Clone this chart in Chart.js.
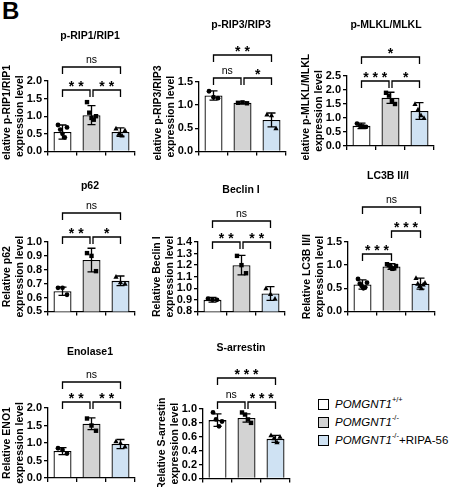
<!DOCTYPE html>
<html><head><meta charset="utf-8">
<script src="https://cdn.jsdelivr.net/npm/chart.js@4.4.0/dist/chart.umd.min.js"></script>
<style>
body{margin:0;width:462px;height:487px;background:#fff;position:relative;overflow:hidden;font-family:"Liberation Sans",Arial,sans-serif}
canvas{position:absolute}
.leg{position:absolute;left:318px;font-size:11.5px;color:#000;display:flex;align-items:flex-start;line-height:13px}
.sw{width:11px;height:11px;border:1.3px solid #000;margin-right:6px;box-sizing:border-box;margin-top:1px}
.sp{font-size:7.5px;line-height:8px;position:relative;top:-2px}
</style></head><body>
<div style="position:absolute;left:2px;top:-3px;font-weight:bold;font-size:24px">B</div>
<div class="leg" style="top:398px"><div class="sw" style="background:#fff"></div><i>POMGNT1</i><span class="sp">+/+</span></div>
<div class="leg" style="top:416px"><div class="sw" style="background:#d3d3d3"></div><i>POMGNT1</i><span class="sp">-/-</span></div>
<div class="leg" style="top:434px"><div class="sw" style="background:#cfe2f3"></div><i>POMGNT1</i><span class="sp">-/-</span>+RIPA-56</div>
<script>
const groups = ['POMGNT1+/+','POMGNT1-/-','POMGNT1-/-+RIPA-56'];
const titles = ['p-RIP1/RIP1','p-RIP3/RIP3','p-MLKL/MLKL','p62','Beclin I','LC3B II/I','Enolase1','S-arrestin'];
const yTitles = [['Relative p-RIP1/RIP1','expression level'],['Relative p-RIP3/RIP3','expression level'],['Relative p-MLKL/MLKL','expression level'],['Relative p62','expression level'],['Relative Beclin I','expression level'],['Relative LC3B II/I','expression level'],['Relative ENO1','expression level'],['Relative S-arrestin','expression level']];
const means = [[0.55,1.03,0.55],[1.21,1.05,0.68],[0.72,1.72,1.25],[0.645,0.87,0.72],[0.90,1.20,0.955],[0.58,0.97,0.60],[0.77,1.55,0.97],[0.84,0.87,0.57]];
const sds = [[0.20,0.27,0.12],[0.10,0.02,0.15],[0.10,0.20,0.30],[0.03,0.085,0.035],[0.02,0.085,0.06],[0.10,0.06,0.12],[0.10,0.17,0.13],[0.09,0.06,0.05]];
const points = [
 [[0.75,0.62,0.50,0.40,0.68],[1.40,1.10,0.95,0.90,1.00],[0.65,0.50,0.45,0.60]],
 [[1.30,1.17,1.15],[1.05,1.06,1.04],[0.80,0.78,0.50]],
 [[0.80,0.72,0.70,0.68],[1.90,1.80,1.60,1.50],[1.50,1.30,1.10,1.00]],
 [[0.67,0.67,0.62],[0.92,0.90,0.79],[0.75,0.71,0.70]],
 [[0.91,0.90,0.90],[1.28,1.20,1.13],[1.00,0.95,0.91]],
 [[0.70,0.60,0.55,0.50,0.52,0.62],[1.02,1.00,0.95,0.92,0.93,0.98],[0.72,0.60,0.55,0.50,0.58,0.62]],
 [[0.85,0.80,0.70],[1.70,1.50,1.35],[1.05,1.00,0.90]],
 [[0.95,0.85,0.75,0.82],[0.95,0.92,0.85,0.80],[0.62,0.58,0.52,0.60]]];
const yMin = [0,0,0,0.5,0.8,0,0,0];
const yMax = [2,1.5,2.5,1.0,1.4,1.5,2,1];
const yStep = [0.5,0.5,0.5,0.1,0.1,0.5,0.5,0.2];
const sig = [
 [[0,2,'ns'],[0,1,'**'],[1,2,'**']],
 [[0,2,'**'],[0,1,'ns'],[1,2,'*']],
 [[0,2,'*'],[0,1,'***'],[1,2,'*']],
 [[0,2,'ns'],[0,1,'**'],[1,2,'*']],
 [[0,2,'ns'],[0,1,'**'],[1,2,'**']],
 [[0,2,'ns'],[1,2,'***'],[0,1,'***']],
 [[0,2,'ns'],[0,1,'**'],[1,2,'**']],
 [[0,2,'***'],[0,1,'ns'],[1,2,'***']]];
// layout (style only)
const L = [
 {ax:48,top:0,h:160,ct:81,cb:152,tx:90,ty:36,br:[-14,9,9]},
 {ax:199,top:0,h:160,ct:82,cb:152,tx:241,ty:25,br:[-27,-4,-4]},
 {ax:347,top:0,h:160,ct:76,cb:146,tx:386,ty:25,br:[-19,5,5]},
 {ax:48,top:160,h:160,ct:82,cb:152,tx:90,ty:26,br:[-29,-5,-5]},
 {ax:198,top:160,h:160,ct:82,cb:152,tx:241,ty:30,br:[-21,0,0]},
 {ax:348,top:160,h:160,ct:82,cb:152,tx:388,ty:16,br:[-35,-11,12]},
 {ax:48,top:320,h:167,ct:88,cb:158,tx:90,ty:32,br:[-26,-6,-6]},
 {ax:203,top:320,h:167,ct:89,cb:159,tx:241,ty:28,br:[-31,-7,-7]}];
const colors=['#ffffff','#d3d3d3','#cfe2f3'];
const YW=47, CW=150, PW=87;
const extra = {
 id:'extra',
 afterDatasetsDraw(c,a,o){
  const k=o.k, ctx=c.ctx, xs=c.scales.x, ys=c.scales.y, lay=L[k];
  ctx.save(); ctx.strokeStyle='#000'; ctx.fillStyle='#000'; ctx.lineWidth=1.3;
  for(let g=0;g<3;g++){
   const x=xs.getPixelForValue(g);
   const m=means[k][g], s=sds[k][g];
   const y1=ys.getPixelForValue(m+s), y2=ys.getPixelForValue(Math.max(m-s,yMin[k]));
   ctx.beginPath(); ctx.moveTo(x,y1); ctx.lineTo(x,y2);
   ctx.moveTo(x-4,y1); ctx.lineTo(x+4,y1); ctx.moveTo(x-4,y2); ctx.lineTo(x+4,y2); ctx.stroke();
   const pts=points[k][g], n=pts.length;
   pts.forEach((v,i)=>{
    const px=x+(n>1?(i/(n-1)-0.5)*9:0), py=ys.getPixelForValue(v);
    ctx.beginPath();
    if(g===0){ctx.arc(px,py,2.4,0,7);} else if(g===1){ctx.rect(px-2.2,py-2.2,4.4,4.4);} else {ctx.moveTo(px,py-2.8);ctx.lineTo(px+2.6,py+2);ctx.lineTo(px-2.6,py+2);ctx.closePath();}
    ctx.fill();
   });
  }
  sig[k].forEach((b,bi)=>{
   let x1=xs.getPixelForValue(b[0]), x2=xs.getPixelForValue(b[1]);
   if(b[1]-b[0]===1 && lay.br[1]===lay.br[2]){ if(b[0]===1) x1+=1.5; else x2-=1.5; }
   const y=c.chartArea.top+lay.br[bi];
   ctx.beginPath(); ctx.moveTo(x1,y+7); ctx.lineTo(x1,y); ctx.lineTo(x2,y); ctx.lineTo(x2,y+7); ctx.stroke();
   ctx.textAlign='center'; ctx.textBaseline='bottom';
   if(b[2]==='ns'){ctx.font='10.5px "Liberation Sans",Arial'; ctx.fillText('ns',(x1+x2)/2,y-2);}
   else {ctx.font='bold 14px "Liberation Sans",Arial'; ctx.fillText(b[2].split('').join(' '),(x1+x2)/2,y+4);}
  });
  ctx.font='bold 10.5px "Liberation Sans",Arial'; ctx.textAlign='center'; ctx.textBaseline='middle';
  ctx.fillText(titles[k], lay.tx-(lay.ax-YW), lay.ty);
  ctx.restore();
 }
};
for(let k=0;k<8;k++){
 const lay=L[k];
 const cv=document.createElement('canvas');
 cv.width=CW; cv.height=lay.h;
 cv.style.left=(lay.ax-YW)+'px'; cv.style.top=lay.top+'px';
 cv.style.width=CW+'px'; cv.style.height=lay.h+'px';
 document.body.appendChild(cv);
 new Chart(cv,{type:'bar',
  data:{labels:groups,datasets:[{data:means[k],backgroundColor:colors,borderColor:'#000',borderWidth:1.3,barPercentage:0.62,categoryPercentage:1}]},
  plugins:[extra],
  options:{responsive:false,animation:false,devicePixelRatio:1,
   layout:{padding:{top:lay.ct,right:CW-YW-PW,left:0,bottom:0}},
   plugins:{legend:{display:false},tooltip:{enabled:false},extra:{k}},
   scales:{
    x:{grid:{display:true,drawOnChartArea:false,color:'#000',tickLength:4,lineWidth:1.3},border:{color:'#000',width:1.3},
       ticks:{callback:()=>'' ,padding:0},afterFit(s){s.height=lay.h-lay.cb;}},
    y:{min:yMin[k],max:yMax[k],grid:{display:true,drawOnChartArea:false,color:'#000',tickLength:4,lineWidth:1.3},border:{color:'#000',width:1.3},
       ticks:{stepSize:yStep[k],autoSkip:false,color:'#000',font:{size:11,weight:'bold',family:'"Liberation Sans",Arial'},padding:2,callback:v=>v.toFixed(1)},
       title:{display:true,text:yTitles[k],color:'#000',font:{size:10.5,weight:'bold',family:'"Liberation Sans",Arial'},padding:0},
       afterFit(s){s.width=YW;}}
   }}});
}
</script></body></html>
